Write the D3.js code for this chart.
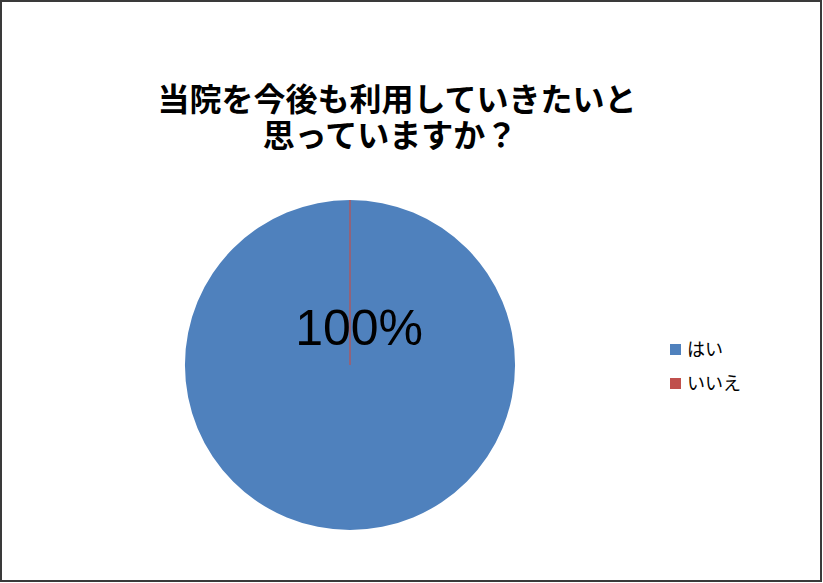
<!DOCTYPE html>
<html lang="ja">
	<head>
		<meta charset="utf-8">
		<title>当院を今後も利用していきたいと思っていますか？</title>
		<style type="text/css">
			body {
				margin: 0;
				background: #fff;
			}
			text {
				font-family: "Noto Sans CJK JP", "Liberation Sans", sans-serif;
			}
		</style>
		<script type="text/javascript" src="https://cdn.jsdelivr.net/npm/d3@7/dist/d3.min.js"></script>
	</head>
	<body>
		<script type="text/javascript">
			//Data
			var titleLines = ["当院を今後も利用していきたいと", "思っていますか？"];
			var categories = ["はい", "いいえ"];
			var values = [100, 0];
			var colors = ["#4F81BD", "#C0504D"];

			//Width and height
			var w = 823;
			var h = 583;
			var cx = 350;
			var cy = 365;
			var radius = 165;

			var svg = d3.select("body")
						.append("svg")
						.attr("width", w)
						.attr("height", h);

			//Frame
			svg.append("rect")
				.attr("x", 1)
				.attr("y", 1)
				.attr("width", w - 3)
				.attr("height", h - 3)
				.attr("fill", "#fff")
				.attr("stroke", "#3a3a3a")
				.attr("stroke-width", 2);

			//Title (Latin font first keeps the line boxes tight, glyphs fall back to Noto CJK)
			svg.append("g")
				.selectAll("text")
				.data(titleLines)
				.enter()
				.append("text")
				.attr("x", function(d, i) { return i === 0 ? 397 : 390; })
				.attr("y", function(d, i) { return 111 + i * 36; })
				.attr("text-anchor", "middle")
				.style("font-family", "'Liberation Sans', 'Noto Sans CJK JP', sans-serif")
				.attr("font-size", "32px")
				.attr("font-weight", "bold")
				.attr("fill", "#000")
				.text(function(d) { return d; });

			//Pie
			var total = d3.sum(values);
			var pie = d3.pie().sort(null).value(function(d) { return d; });
			var arc = d3.arc().innerRadius(0).outerRadius(radius);
			var color = d3.scaleOrdinal().domain(categories).range(colors);

			var g = svg.append("g")
				.attr("transform", "translate(" + cx + "," + cy + ")");

			g.selectAll("path")
				.data(pie(values))
				.enter()
				.append("path")
				.attr("d", arc)
				.attr("fill", function(d, i) { return color(categories[i]); })
				.attr("stroke", function(d, i) { return i === 0 ? "none" : color(categories[i]); })
				.attr("stroke-width", 1.2);

			//Data label (only non-zero slices)
			g.selectAll("text.label")
				.data(pie(values).filter(function(d) { return d.value > 0; }))
				.enter()
				.append("text")
				.attr("class", "label")
				.attr("x", radius * 0.055)
				.attr("y", -radius * 0.12)
				.attr("text-anchor", "middle")
				.style("font-family", "'Liberation Sans', Arial, sans-serif")
				.attr("font-size", "50px")
				.attr("fill", "#000")
				.text(function(d) { return Math.round(d.value / total * 100) + "%"; });

			//Legend
			var legend = svg.append("g")
				.attr("transform", "translate(670,344)");

			var item = legend.selectAll("g")
				.data(categories)
				.enter()
				.append("g")
				.attr("transform", function(d, i) { return "translate(0," + (i * 34) + ")"; });

			item.append("rect")
				.attr("width", 11)
				.attr("height", 11)
				.attr("fill", function(d) { return color(d); });

			item.append("text")
				.attr("x", 17)
				.attr("y", 12)
				.attr("font-size", "18px")
				.attr("fill", "#000")
				.text(function(d) { return d; });
		</script>
	</body>
</html>
